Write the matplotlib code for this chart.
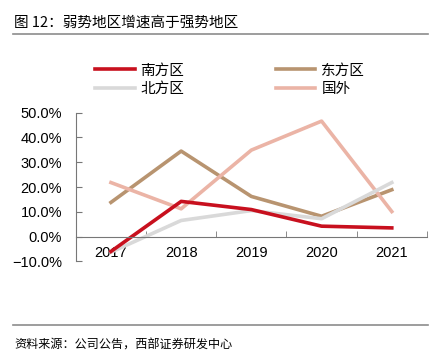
import numpy as np
import matplotlib
matplotlib.use("Agg")
import matplotlib.pyplot as plt
from matplotlib.ticker import PercentFormatter, FixedLocator

plt.rcParams['font.family'] = ['Liberation Sans', 'Noto Sans CJK SC', 'DejaVu Sans']

# data (growth rate, %)
years = ["2017", "2018", "2019", "2020", "2021"]
south = [-6.0, 14.2, 10.9, 4.2, 3.5]
east = [13.8, 34.5, 16.2, 8.2, 18.9]
north = [-6.3, 6.5, 10.5, 7.2, 21.8]
abroad = [21.8, 11.2, 34.9, 46.6, 10.1]

title = "图 12：弱势地区增速高于强势地区"
source = "资料来源：公司公告，西部证券研发中心"

c_red = "#C8101E"
c_tan = "#B89470"
c_gray = "#D9D9D9"
c_pink = "#EBB4A6"
spine_c = "#777777"

fig = plt.figure(figsize=(4.41, 3.6), dpi=100)
ax = fig.add_axes([0.172, 0.274, 0.796, 0.413])

x = np.arange(len(years))
lw = 2.6
# keep lines below the axis so the 2017 label sits on top
l_east, = ax.plot(x, east, color=c_tan, lw=lw, label="东方区", zorder=1.2)
l_abroad, = ax.plot(x, abroad, color=c_pink, lw=lw, label="国外", zorder=1.4)
l_north, = ax.plot(x, north, color=c_gray, lw=lw, label="北方区", zorder=1.6)
l_south, = ax.plot(x, south, color=c_red, lw=lw, label="南方区", zorder=1.8)

ax.set_xlim(-0.5, len(years) - 0.5)
ax.set_ylim(-10, 50)
ax.yaxis.set_major_locator(FixedLocator(np.arange(-10, 51, 10)))
ax.yaxis.set_major_formatter(PercentFormatter(decimals=1))

ax.set_xticks(x)
ax.set_xticklabels(years)
ax.set_xticks(np.arange(-0.5, len(years), 1), minor=True)
ax.tick_params(axis='x', which='major', length=0, pad=7, labelsize=10.5)
ax.tick_params(axis='x', which='minor', length=4, direction='in', color=spine_c)
ax.tick_params(axis='y', length=4, direction='in', color=spine_c, labelsize=10.5, pad=10)

ax.spines['top'].set_visible(False)
ax.spines['right'].set_visible(False)
ax.spines['bottom'].set_position(('data', 0))
ax.spines['bottom'].set_color(spine_c)
ax.spines['left'].set_color(spine_c)

fig.legend(handles=[l_south, l_north, l_east, l_abroad], ncol=2,
           loc='upper left', bbox_to_anchor=(0.186, 0.86), frameon=False,
           handlelength=2.7, handletextpad=0.4, columnspacing=6.3,
           labelspacing=0.3, prop={'family': ['Noto Sans CJK SC'], 'size': 10.5})

fig.text(0.032, 0.938, title, fontsize=10.5, family=['Noto Sans CJK SC'], va='center')
fig.add_artist(plt.Line2D([0.03, 0.97], [0.905, 0.905], color="#8c8c8c", lw=1.2))
fig.add_artist(plt.Line2D([0.03, 0.97], [0.097, 0.097], color="#8c8c8c", lw=1.2))
fig.text(0.032, 0.042, source, fontsize=8.7, family=['Noto Sans CJK SC'], va='center')

fig.savefig("out.png", dpi=100)
